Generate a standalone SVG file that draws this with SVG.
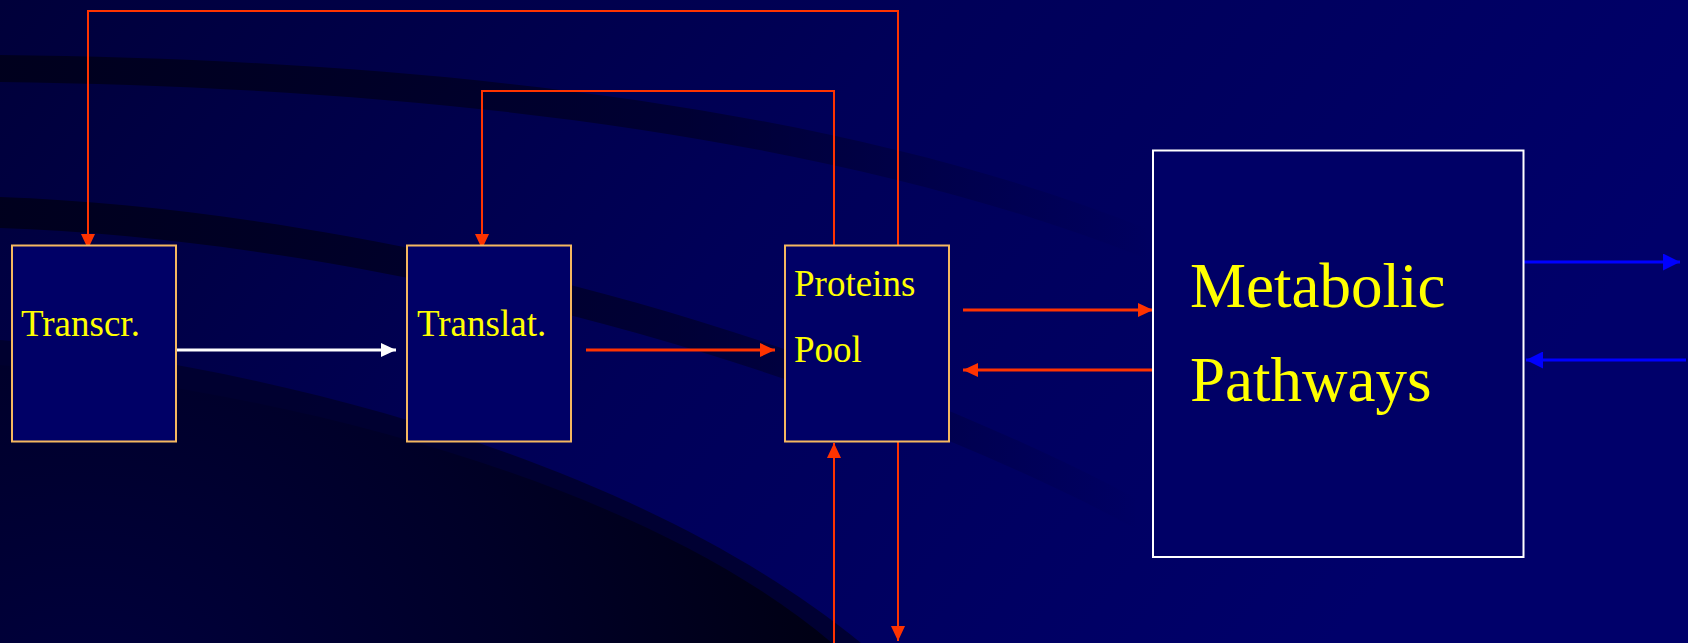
<svg xmlns="http://www.w3.org/2000/svg" width="1688" height="643" viewBox="0 0 1688 643">
<style>
.box{fill:#000066;stroke:#F5B860;stroke-width:2}
.mbox{fill:#000066;stroke:#FFFFFF;stroke-width:2}
.lbl{font-family:"Liberation Serif","Times New Roman",serif;fill:#FFFF00;font-size:37px}
.big{font-family:"Liberation Serif","Times New Roman",serif;fill:#FFFF00;font-size:63px}
.red{fill:none;stroke:#FF3300;stroke-width:2}
.redt{fill:none;stroke:#FF3300;stroke-width:3}
.blue{fill:none;stroke:#0000FF;stroke-width:3}
.white{fill:none;stroke:#FFFFFF;stroke-width:3}
</style>
<defs>
<linearGradient id="bg" x1="0" y1="0" x2="1" y2="0.3">
<stop offset="0" stop-color="#00003A"/>
<stop offset="0.5" stop-color="#000058"/>
<stop offset="1" stop-color="#00006A"/>
</linearGradient>
<linearGradient id="fade" x1="0" y1="0" x2="1" y2="0">
<stop offset="0" stop-color="#00001A" stop-opacity="0.9"/>
<stop offset="0.6" stop-color="#00001A" stop-opacity="0.55"/>
<stop offset="1" stop-color="#00001A" stop-opacity="0"/>
</linearGradient>
<radialGradient id="dark" gradientUnits="userSpaceOnUse" cx="80" cy="760" r="820">
<stop offset="0" stop-color="#000040"/>
<stop offset="0.55" stop-color="#000028"/>
<stop offset="1" stop-color="#000010"/>
</radialGradient>
<marker id="ar" markerUnits="userSpaceOnUse" markerWidth="16" markerHeight="16" viewBox="0 0 16 14" refX="15" refY="7" orient="auto">
<path d="M0 0 L15 7 L0 14 Z" fill="#FF3300"/>
</marker>
<marker id="aw" markerUnits="userSpaceOnUse" markerWidth="16" markerHeight="16" viewBox="0 0 16 14" refX="15" refY="7" orient="auto">
<path d="M0 0 L15 7 L0 14 Z" fill="#FFFFFF"/>
</marker>
<marker id="ab" markerUnits="userSpaceOnUse" markerWidth="17" markerHeight="17" viewBox="0 0 16 16" refX="16" refY="8" orient="auto">
<path d="M0 0 L16 8 L0 16 Z" fill="#0000FF"/>
</marker>
</defs>
<g id="background">
<rect x="0" y="0" width="1688" height="643" fill="url(#bg)"/>
<path d="M0 55 C450 60 850 110 1150 230 L1150 260 C850 140 450 88 0 82 Z" fill="url(#fade)"/>
<path d="M0 197 C350 210 800 320 1139 500 L1139 530 C800 350 350 240 0 228 Z" fill="url(#fade)"/>
<path d="M0 340 C300 370 650 470 861 643 L0 643 Z" fill="#00002C" opacity="0.85"/>
<path d="M0 365 C280 390 640 480 832 643 L0 643 Z" fill="url(#dark)"/>
</g>
<g id="connectors">
<path class="red" d="M898 250 V11 H88 V249" marker-end="url(#ar)"/>
<path class="red" d="M834 250 V91 H482 V249" marker-end="url(#ar)"/>
<path class="white" d="M173 350 H396" marker-end="url(#aw)"/>
<path class="redt" d="M586 350 H775" marker-end="url(#ar)"/>
<path class="redt" d="M963 310 H1153" marker-end="url(#ar)"/>
<path class="redt" d="M1152 370 H963" marker-end="url(#ar)"/>
<path class="red" d="M834 643 V443" marker-end="url(#ar)"/>
<path class="red" d="M898 442 V641" marker-end="url(#ar)"/>
<path class="blue" d="M1523 262 H1680" marker-end="url(#ab)"/>
<path class="blue" d="M1686 360 H1526" marker-end="url(#ab)"/>
</g>
<g id="transcr">
<rect class="box" x="12" y="245.5" width="164" height="196"/>
<text class="lbl" x="21" y="336">Transcr.</text>
</g>
<g id="translat">
<rect class="box" x="407" y="245.5" width="164" height="196"/>
<text class="lbl" x="417" y="336">Translat.</text>
</g>
<g id="proteins">
<rect class="box" x="785" y="245.5" width="164" height="196"/>
<text class="lbl" x="794" y="296">Proteins</text>
<text class="lbl" x="794" y="362">Pool</text>
</g>
<g id="metabolic">
<rect class="mbox" x="1153" y="150.5" width="370.5" height="406.5"/>
<text class="big" x="1190" y="307">Metabolic</text>
<text class="big" x="1190" y="401">Pathways</text>
</g>
</svg>
